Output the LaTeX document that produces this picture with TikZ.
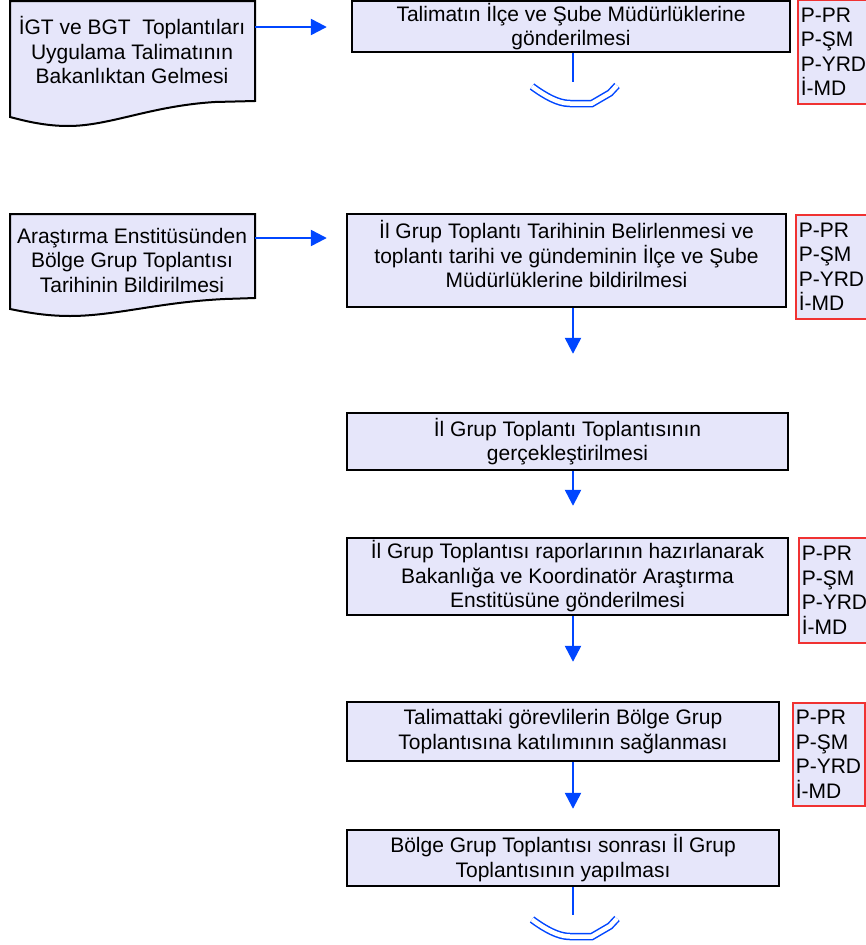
\documentclass[tikz,border=0pt]{standalone}
\usepackage{fontspec}
\setmainfont{Liberation Sans}
\usetikzlibrary{arrows.meta}
\definecolor{boxfill}{RGB}{230,230,250}
\definecolor{flowblue}{RGB}{0,70,255}
\definecolor{rolered}{RGB}{240,50,50}
\tikzset{
  box/.style={draw=black, line width=2.4pt, fill=boxfill, align=center, inner sep=0pt},
  rolebox/.style={draw=rolered, line width=1.5pt, fill=boxfill, align=left, anchor=north west,
    inner xsep=3pt, inner ysep=0pt, text width=66pt, minimum height=104pt},
  docshape/.style={draw=black, line width=2pt, fill=boxfill},
  flow/.style={draw=flowblue, line width=2.4pt, -{Triangle[width=16pt,length=16pt]}},
  connline/.style={draw=flowblue, line width=1.5pt, double=white, double distance=4.5pt},
  offpage/.pic={\draw[connline] (-41,4.5) .. controls (-28,14) and (-15,21.5) .. (-3,21.5) -- (19,21.5) -- (37,11) -- (44,3.5);}
}
\begin{document}
\begin{tikzpicture}[x=1pt, y=-1pt, font=\fontsize{21}{24.5}\selectfont]
  \useasboundingbox (0,0) rectangle (866,945);
  % documents on the left
  \draw[docshape] (10,1) -- (255,1) -- (255,101) -- (215,102) .. controls (150,106) and (110,126) .. (68,126) .. controls (45,126) and (25,121) .. (10,117) -- cycle;
  \draw[docshape] (10,214) -- (255,214) -- (255,298) -- (225,299) .. controls (160,302) and (115,316) .. (70,316) .. controls (45,316) and (25,312) .. (10,309) -- cycle;
  \node[align=center] (igt) at (132,50) {İGT ve BGT \ Toplantıları\\Uygulama Talimatının\\Bakanlıktan Gelmesi};
  \node[align=center] (arge) at (132,260) {Araştırma Enstitüsünden\\Bölge Grup Toplantısı\\Tarihinin Bildirilmesi};
  \coordinate (igt-r) at (255,27);
  \coordinate (arge-r) at (255,238);
  \coordinate (axis) at (573,0);

  % process boxes
  \node[box, minimum width=438pt, minimum height=51pt] (talimat) at (571,26.5) {Talimatın İlçe ve Şube Müdürlüklerine\\gönderilmesi};
  \node[box, minimum width=439pt, minimum height=93pt] (plan) at (566.5,260.5) {İl Grup Toplantı Tarihinin Belirlenmesi ve\\toplantı tarihi ve gündeminin İlçe ve Şube\\Müdürlüklerine bildirilmesi\rule[-13pt]{0pt}{0pt}};
  \node[box, minimum width=441pt, minimum height=57pt] (toplanti) at (567.5,441.5) {İl Grup Toplantı Toplantısının\\gerçekleştirilmesi};
  \node[box, minimum width=441pt, minimum height=77pt] (rapor) at (567.5,576.5) {İl Grup Toplantısı raporlarının hazırlanarak\\Bakanlığa ve Koordinatör Araştırma\\Enstitüsüne gönderilmesi};
  \node[box, minimum width=432pt, minimum height=59pt] (katilim) at (563,731.5) {Talimattaki görevlilerin Bölge Grup\\Toplantısına katılımının sağlanması};
  \node[box, minimum width=432pt, minimum height=56pt] (sonra) at (563,858) {Bölge Grup Toplantısı sonrası İl Grup\\Toplantısının yapılması};

  % responsible units
  \node[rolebox] (rol1) at (797,-1) {P-PR\\P-ŞM\\P-YRD\\İ-MD};
  \node[rolebox] (rol2) at (795,214) {P-PR\\P-ŞM\\P-YRD\\İ-MD};
  \node[rolebox, minimum height=105pt] (rol3) at (798,537) {P-PR\\P-ŞM\\P-YRD\\İ-MD};
  \node[rolebox, minimum height=103pt] (rol4) at (792,702) {P-PR\\P-ŞM\\P-YRD\\İ-MD};

  % connectors
  \draw[flow, shorten >=24pt] (igt-r) -- (igt-r -| talimat.west);
  \draw[flow, shorten >=19pt] (arge-r) -- (arge-r -| plan.west);
  \coordinate (end1) at (573,82);
  \coordinate (end2) at (573,915);
  \draw[flowblue, line width=2.4pt] (talimat.south -| axis) -- (end1);
  \pic at (end1) {offpage};
  \draw[flow, shorten >=58pt] (plan.south -| axis) -- (toplanti.north -| axis);
  \draw[flow, shorten >=31pt] (toplanti.south -| axis) -- (rapor.north -| axis);
  \draw[flow, shorten >=39pt] (rapor.south -| axis) -- (katilim.north -| axis);
  \draw[flow, shorten >=20pt] (katilim.south -| axis) -- (sonra.north -| axis);
  \draw[flowblue, line width=2.4pt] (sonra.south -| axis) -- (end2);
  \pic at (end2) {offpage};
\end{tikzpicture}
\end{document}
